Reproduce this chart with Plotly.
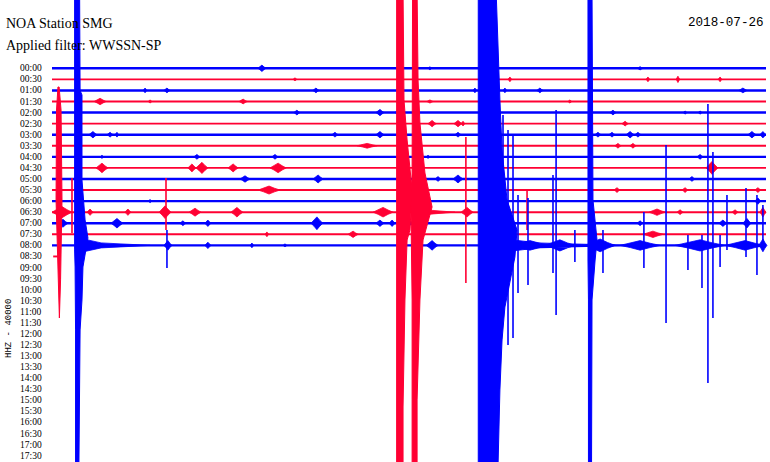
import plotly.graph_objects as go

# ---------------- data (time in minutes within each 30-min line, row index downward) ----------------
ROW_LABELS = ["00:00", "00:30", "01:00", "01:30", "02:00", "02:30", "03:00", "03:30",
              "04:00", "04:30", "05:00", "05:30", "06:00", "06:30", "07:00", "07:30",
              "08:00", "08:30", "09:00", "09:30", "10:00", "10:30", "11:00", "11:30",
              "12:00", "12:30", "13:00", "13:30", "14:00", "14:30", "15:00", "15:30",
              "16:00", "16:30", "17:00", "17:30"]

TRACE_START = [0.0] * 17 + [0.05]
TRACE_END = [30.0] * 17 + [0.30]

# bursts: (row, centre minute, half duration in minutes, amplitude in row units)
BURSTS = [
    (0, 8.82, 0.17, 0.36), (0, 15.88, 0.08, 0.18), (0, 24.71, 0.13, 0.18),
    (1, 19.24, 0.08, 0.27), (1, 25.04, 0.08, 0.27), (1, 26.30, 0.08, 0.36), (1, 28.07, 0.08, 0.27), (1, 10.21, 0.08, 0.18),
    (2, 3.91, 0.08, 0.27), (2, 4.83, 0.13, 0.27), (2, 11.09, 0.13, 0.27), (2, 17.77, 0.08, 0.27),
    (2, 19.03, 0.08, 0.27), (2, 20.50, 0.13, 0.27), (2, 29.03, 0.17, 0.27),
    (3, 2.02, 0.25, 0.36), (3, 8.03, 0.17, 0.27), (3, 4.12, 0.08, 0.18), (3, 15.88, 0.13, 0.18), (3, 21.76, 0.08, 0.18),
    (4, 10.29, 0.13, 0.27), (4, 13.78, 0.17, 0.36), (4, 14.54, 0.13, 0.27), (4, 23.57, 0.13, 0.27),
    (4, 26.60, 0.08, 0.18), (4, 27.23, 0.08, 0.18),
    (5, 15.97, 0.17, 0.36), (5, 17.06, 0.17, 0.36), (5, 17.27, 0.08, 0.27), (5, 24.08, 0.13, 0.27),
    (6, 1.72, 0.17, 0.36), (6, 2.44, 0.13, 0.27), (6, 2.73, 0.08, 0.27), (6, 11.89, 0.13, 0.27),
    (6, 13.78, 0.17, 0.36), (6, 17.06, 0.13, 0.27), (6, 22.94, 0.13, 0.27), (6, 23.53, 0.13, 0.27),
    (6, 24.29, 0.17, 0.36), (6, 24.62, 0.13, 0.27), (6, 29.41, 0.17, 0.36), (6, 29.87, 0.13, 0.36),
    (7, 13.24, 0.42, 0.27), (7, 23.78, 0.13, 0.27), (7, 24.41, 0.13, 0.27),
    (8, 2.10, 0.08, 0.18), (8, 6.09, 0.13, 0.27), (8, 9.37, 0.13, 0.27), (8, 15.80, 0.08, 0.18), (8, 27.23, 0.13, 0.27),
    (9, 2.10, 0.25, 0.54), (9, 5.88, 0.17, 0.45), (9, 6.30, 0.25, 0.63), (9, 7.61, 0.21, 0.45),
    (9, 9.50, 0.34, 0.54), (9, 27.73, 0.25, 0.72),
    (10, 8.11, 0.21, 0.36), (10, 11.18, 0.21, 0.45), (10, 16.22, 0.13, 0.27), (10, 17.06, 0.21, 0.45), (10, 26.89, 0.13, 0.27),
    (11, 9.12, 0.46, 0.45), (11, 23.74, 0.13, 0.27), (11, 26.60, 0.13, 0.27), (11, 29.66, 0.13, 0.27),
    (12, 29.66, 0.13, 0.36), (12, 4.12, 0.08, 0.18),
    (13, 0.42, 0.42, 0.63), (13, 1.60, 0.13, 0.36), (13, 3.19, 0.13, 0.36), (13, 4.75, 0.25, 0.72),
    (13, 6.01, 0.25, 0.45), (13, 7.77, 0.25, 0.54), (13, 13.91, 0.42, 0.54), (13, 17.44, 0.25, 0.54),
    (13, 25.42, 0.34, 0.36), (13, 26.39, 0.13, 0.27), (13, 28.70, 0.13, 0.27), (13, 29.87, 0.13, 0.54),
    (14, 0.46, 0.21, 0.45), (14, 2.73, 0.25, 0.54), (14, 5.50, 0.13, 0.27), (14, 6.55, 0.13, 0.36),
    (14, 11.13, 0.25, 0.72), (14, 13.78, 0.17, 0.36), (14, 14.29, 0.13, 0.36), (14, 24.71, 0.13, 0.27),
    (14, 28.19, 0.17, 0.36), (14, 29.20, 0.17, 0.54),
    (15, 9.03, 0.08, 0.27), (15, 12.65, 0.21, 0.36), (15, 25.25, 0.42, 0.36),
    (16, 4.87, 0.17, 0.54), (16, 6.55, 0.13, 0.36), (16, 8.40, 0.08, 0.27), (16, 9.79, 0.08, 0.18),
    (16, 15.97, 0.25, 0.54), (16, 20.08, 0.84, 0.54), (16, 21.34, 0.63, 0.63), (16, 23.03, 0.63, 0.72),
    (16, 24.71, 0.84, 0.54), (16, 27.23, 1.05, 0.63), (16, 29.12, 0.84, 0.54), (16, 29.87, 0.17, 0.72),
]

# decaying codas: (row, start minute, end minute, initial amplitude in row units)
CODAS = [
    (16, 1.18, 4.12, 0.81), (13, 15.46, 16.93, 0.63), (12, 14.83, 15.88, 0.36),
    (14, 14.83, 15.67, 0.45), (16, 18.82, 24.08, 0.81), (16, 22.69, 23.66, 0.81),
]

# isolated large spikes: (row, minute, top row-position, bottom row-position)
SPIKES = [
    (13, 17.39, 6.21, 19.40), (13, 0.84, 9.91, 14.88), (13, 4.79, 9.91, 14.61), (13, 19.96, 10.99, 14.61),
    (16, 4.83, 14.61, 18.04), (16, 18.95, 4.22, 16.41), (16, 19.16, 5.57, 25.00), (16, 19.37, 6.03, 24.36),
    (16, 19.58, 11.44, 20.30), (16, 20.00, 11.72, 19.58), (16, 21.18, 3.77, 22.29), (16, 21.05, 9.64, 18.49),
    (16, 21.97, 14.61, 17.50), (16, 23.15, 14.61, 18.49), (16, 24.87, 12.98, 18.04), (16, 25.80, 6.93, 23.01),
    (16, 26.72, 15.06, 18.22), (16, 27.31, 15.06, 19.85), (16, 27.56, 3.22, 28.43), (16, 27.77, 7.56, 22.56),
    (16, 28.07, 15.06, 17.95), (16, 28.36, 11.44, 16.41), (16, 29.16, 10.81, 17.05), (16, 29.62, 11.44, 18.68),
    (16, 29.87, 12.35, 16.41),
]

# saturated strong-motion traces: (row owning the colour, [(row-position, left minute, right minute), ...])
COLUMNS = [
    (13, [(1.69, 0.25, 0.30), (3.77, 0.19, 0.38), (11.90, 0.17, 0.42), (15.51, 0.21, 0.38),
          (19.12, 0.25, 0.36), (22.56, 0.29, 0.31)]),
    (16, [(-7.0, 0.95, 1.16), (2.00, 0.95, 1.18), (2.41, 0.95, 1.26), (10.09, 0.95, 1.26),
          (13.70, 0.95, 1.39), (15.33, 0.93, 1.51), (16.41, 0.95, 1.43), (17.95, 0.97, 1.30),
          (20.93, 0.99, 1.26), (23.64, 0.99, 1.18), (36.0, 0.99, 1.13)]),
    (13, [(-7.0, 14.48, 14.75), (2.86, 14.48, 14.79), (6.48, 14.48, 14.92), (10.99, 14.45, 15.13),
          (14.61, 14.45, 15.04), (15.51, 14.47, 14.92), (20.93, 14.48, 14.83), (30.60, 14.48, 14.75),
          (36.0, 14.48, 14.75)]),
    (13, [(-7.0, 15.15, 15.34), (1.06, 15.15, 15.38), (4.94, 15.15, 15.46), (9.46, 15.13, 15.67),
          (12.53, 15.08, 15.97), (15.51, 15.10, 15.59), (20.93, 15.13, 15.46), (29.96, 15.13, 15.34),
          (36.0, 15.13, 15.34)]),
    (16, [(-7.0, 17.91, 18.66), (2.86, 17.91, 18.82), (7.38, 17.91, 18.91), (11.90, 17.91, 19.12),
          (14.61, 17.91, 19.54), (17.05, 17.91, 19.45), (21.57, 17.91, 19.03), (24.54, 17.91, 18.91),
          (29.06, 17.91, 18.82), (32.04, 17.91, 18.78), (36.0, 17.91, 18.74)]),
    (16, [(-7.0, 22.52, 22.69), (11.90, 22.52, 22.73), (15.51, 22.50, 22.90), (17.32, 22.52, 22.82),
          (20.93, 22.54, 22.69), (36.0, 22.54, 22.67)]),
]

STATION_TITLE = "NOA Station SMG"
FILTER_TITLE = "Applied filter: WWSSN-SP"
DATE_TEXT = "2018-07-26"
CHANNEL_TEXT = "HHZ - 40000"

BLUE = "#0000ff"
RED = "#ff0033"
AMP_SCALE = 0.8


def colour(row):
    return BLUE if row % 2 == 0 else RED


fig = go.Figure()

# baselines
for col, width in ((BLUE, 2.4), (RED, 1.9)):
    xs, ys = [], []
    for r, (a, b) in enumerate(zip(TRACE_START, TRACE_END)):
        if colour(r) == col:
            xs += [a, b, None]
            ys += [-r, -r, None]
    fig.add_trace(go.Scatter(x=xs, y=ys, mode="lines", line=dict(color=col, width=width),
                             hoverinfo="skip", showlegend=False))

# bursts + codas (filled spindles)
for col in (RED, BLUE):
    xs, ys = [], []
    for r, t, hw, amp in BURSTS:
        if colour(r) != col:
            continue
        y0 = -r
        a = amp * AMP_SCALE
        xs += [t - hw, t - hw * 0.5, t, t + hw * 0.5, t + hw, t + hw * 0.5, t, t - hw * 0.5, t - hw, None]
        ys += [y0, y0 + a * 0.45, y0 + a, y0 + a * 0.45, y0, y0 - a * 0.45, y0 - a, y0 - a * 0.45, y0, None]
    for r, t0, t1, amp in CODAS:
        if colour(r) != col:
            continue
        y0 = -r
        a = amp * AMP_SCALE
        xs += [t0, t0 + (t1 - t0) * 0.3, t1, t0 + (t1 - t0) * 0.3, t0, t0, None]
        ys += [y0 + a, y0 + a * 0.35, y0, y0 - a * 0.35, y0 - a, y0 + a, None]
    fig.add_trace(go.Scatter(x=xs, y=ys, mode="lines", fill="toself", fillcolor=col,
                             line=dict(color=col, width=0.8), hoverinfo="skip", showlegend=False))

# columns
for r, prof in COLUMNS:
    col = colour(r)
    xs = [p[1] for p in prof] + [p[2] for p in reversed(prof)] + [prof[0][1]]
    ys = [-p[0] for p in prof] + [-p[0] for p in reversed(prof)] + [-prof[0][0]]
    fig.add_trace(go.Scatter(x=xs, y=ys, mode="lines", fill="toself", fillcolor=col,
                             line=dict(color=col, width=1), hoverinfo="skip", showlegend=False))

# spikes
for col in (RED, BLUE):
    xs, ys = [], []
    for r, t, top, bot in SPIKES:
        if colour(r) != col:
            continue
        xs += [t, t, None]
        ys += [-top, -bot, None]
    fig.add_trace(go.Scatter(x=xs, y=ys, mode="lines", line=dict(color=col, width=1.6),
                             hoverinfo="skip", showlegend=False))

annotations = []
for i, lab in enumerate(ROW_LABELS):
    annotations.append(dict(x=-0.34, y=-i, xref="x", yref="y", text=lab, showarrow=False,
                            xanchor="right", yanchor="middle",
                            font=dict(family="Liberation Serif", size=9.5, color="black")))
annotations += [
    dict(x=4 / 770, y=1 - 23 / 462, xref="paper", yref="paper", text=STATION_TITLE, showarrow=False,
         xanchor="left", yanchor="middle", font=dict(family="Liberation Serif", size=14, color="black")),
    dict(x=4 / 770, y=1 - 46 / 462, xref="paper", yref="paper", text=FILTER_TITLE, showarrow=False,
         xanchor="left", yanchor="middle", font=dict(family="Liberation Serif", size=14, color="black")),
    dict(x=766 / 770, y=1 - 23 / 462, xref="paper", yref="paper", text=DATE_TEXT, showarrow=False,
         xanchor="right", yanchor="middle", font=dict(family="Liberation Mono", size=12.6, color="black")),
    dict(x=8.5 / 770, y=1 - 328.5 / 462, xref="paper", yref="paper", text=CHANNEL_TEXT, showarrow=False,
         textangle=-90, xanchor="center", yanchor="middle",
         font=dict(family="Liberation Mono", size=9, color="black")),
]

fig.update_layout(
    width=770, height=462,
    margin=dict(l=0, r=0, t=0, b=0, pad=0),
    paper_bgcolor="white", plot_bgcolor="white",
    xaxis=dict(range=[-2.185, 30.168], visible=False, fixedrange=True),
    yaxis=dict(range=[-35.57, 6.17], visible=False, fixedrange=True),
    annotations=annotations,
    showlegend=False,
)

fig.write_html("out.html", config={"displayModeBar": False},
               post_script="document.body.style.margin='0';document.body.style.overflow='hidden';")
